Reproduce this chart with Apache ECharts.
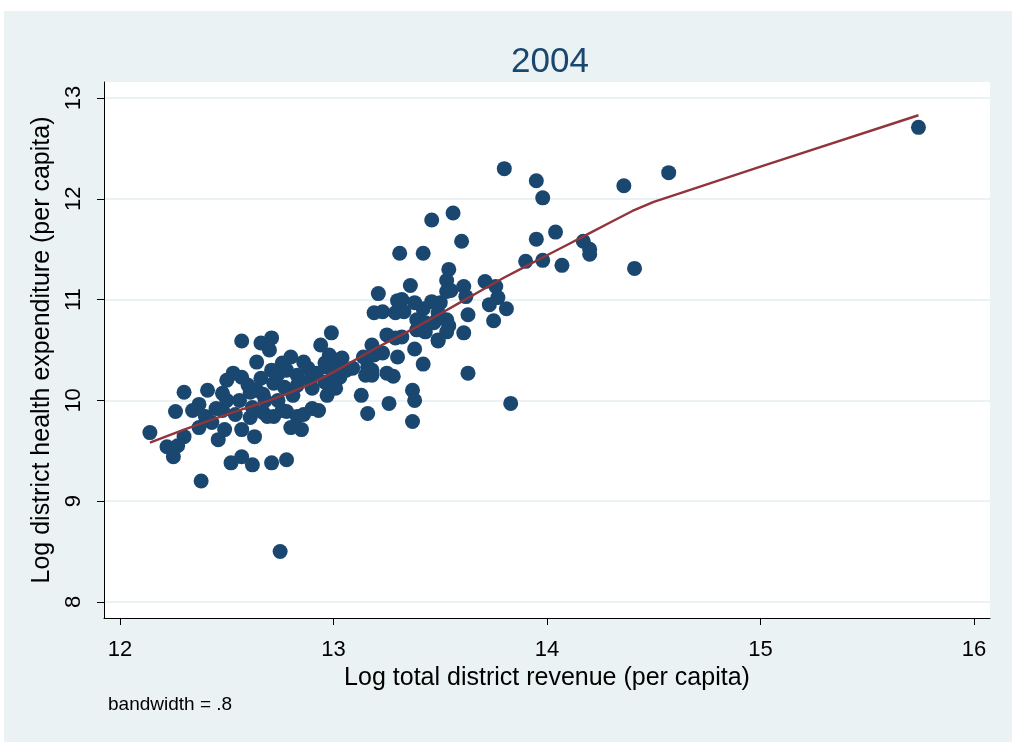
<!DOCTYPE html>
<html>
<head>
<meta charset="utf-8">
<script src="https://cdn.jsdelivr.net/npm/echarts@6/dist/echarts.min.js"></script>
<style>
html, body { margin: 0; padding: 0; background: #fff; }
#chart { width: 1016px; height: 742px; }
</style>
</head>
<body>
<div id="chart"></div>
<script>
var xTicks = [12, 13, 14, 15, 16];
var yTicks = [8, 9, 10, 11, 12, 13];

// log revenue, log health expenditure (per capita), 2004
var districts = [
    [12.14, 9.68], [12.22, 9.54], [12.25, 9.44], [12.27, 9.55], [12.30, 9.64],
    [12.26, 9.89], [12.30, 10.08], [12.34, 9.90], [12.37, 9.96], [12.38, 9.20],
    [12.41, 10.10], [12.40, 9.84], [12.37, 9.73], [12.43, 9.78], [12.46, 9.61],
    [12.45, 9.92], [12.48, 10.07], [12.50, 10.20], [12.53, 10.27], [12.57, 10.23],
    [12.49, 9.71], [12.54, 9.86], [12.57, 9.71], [12.61, 9.83], [12.63, 9.64],
    [12.62, 9.93], [12.61, 10.08], [12.52, 9.38], [12.57, 9.44], [12.62, 9.36],
    [12.67, 9.88], [12.57, 10.59], [12.66, 10.57], [12.71, 10.62], [12.70, 10.50],
    [12.64, 10.38], [12.48, 9.90], [12.50, 10.00], [12.56, 10.00], [12.60, 10.15],
    [12.64, 10.10], [12.71, 10.30], [12.76, 10.37], [12.80, 10.43], [12.86, 10.38],
    [12.88, 10.32], [12.78, 10.30], [12.83, 10.25], [12.72, 10.17], [12.77, 10.13],
    [12.83, 10.15], [12.90, 10.12], [12.89, 10.20], [12.96, 10.37], [12.98, 10.45],
    [13.02, 10.40], [13.00, 10.25], [12.96, 10.18], [12.97, 10.05], [12.74, 10.00],
    [12.76, 9.90], [12.78, 9.89], [12.83, 9.84], [12.86, 9.86], [12.90, 9.92],
    [12.93, 9.90], [12.69, 9.84], [12.72, 9.84], [12.80, 9.73], [12.85, 9.71],
    [12.71, 9.38], [12.78, 9.41], [12.75, 8.50], [12.94, 10.55], [12.99, 10.67],
    [12.68, 10.00], [13.04, 10.42], [12.97, 10.33], [13.00, 10.30], [13.03, 10.23],
    [13.06, 10.30], [13.09, 10.32], [13.14, 10.43], [13.18, 10.55], [13.23, 10.47],
    [13.19, 10.45], [13.30, 10.43], [13.25, 10.65], [13.29, 10.62], [13.32, 10.63],
    [13.16, 10.33], [13.18, 10.30], [13.15, 10.25], [13.18, 10.25], [13.25, 10.27],
    [13.28, 10.24], [13.01, 10.20], [13.01, 10.12], [13.13, 10.05], [13.16, 9.87],
    [13.26, 9.97], [13.37, 10.10], [13.38, 10.00], [13.37, 9.79], [13.38, 10.51],
    [13.42, 10.36], [13.21, 11.06], [13.19, 10.87], [13.23, 10.88], [13.36, 11.14],
    [13.30, 10.99], [13.32, 11.00], [13.29, 10.87], [13.33, 10.88], [13.38, 10.97],
    [13.42, 10.91], [13.46, 10.98], [13.50, 10.97], [13.49, 10.87], [13.39, 10.80],
    [13.43, 10.77], [13.39, 10.70], [13.43, 10.68], [13.47, 10.77], [13.53, 10.80],
    [13.49, 10.60], [13.53, 11.19], [13.53, 11.08], [13.31, 11.46], [13.42, 11.46],
    [13.46, 11.79], [13.56, 11.86], [13.60, 11.58], [13.54, 11.30], [13.55, 11.09],
    [13.61, 11.13], [13.62, 11.03], [13.63, 10.85], [13.54, 10.74], [13.53, 10.68],
    [13.49, 10.59], [13.61, 10.67], [13.63, 10.27], [13.80, 12.30], [13.95, 12.18],
    [13.98, 12.01], [14.36, 12.13], [13.95, 11.60], [14.04, 11.67], [13.90, 11.38],
    [13.98, 11.39], [14.07, 11.34], [14.17, 11.58], [14.20, 11.50], [14.20, 11.45],
    [14.41, 11.31], [13.71, 11.18], [13.76, 11.13], [13.77, 11.02], [13.73, 10.95],
    [13.81, 10.91], [13.75, 10.79], [13.83, 9.97], [14.57, 12.26], [15.74, 12.71],
    [12.66, 10.22], [12.74, 10.26], [12.81, 10.05], [12.67, 10.06], [12.92, 10.27]
];

// lowess smooth, bandwidth .8
var lowessX = [12.14, 12.3, 12.5, 12.7, 12.8, 12.9, 13.0, 13.1, 13.2, 13.3, 13.4, 13.5,
    13.6, 13.7, 13.8, 13.9, 14.0, 14.1, 14.2, 14.3, 14.4, 14.5, 14.6, 15.0, 15.74];
var lowessY = [9.58, 9.71, 9.86, 10.00, 10.08, 10.17, 10.28, 10.40, 10.52, 10.63, 10.74, 10.86,
    10.98, 11.10, 11.22, 11.33, 11.44, 11.55, 11.66, 11.77, 11.88, 11.97, 12.04, 12.32, 12.83];

var lowess = lowessX.map(function (x, i) { return [x, lowessY[i]]; });

var chart = echarts.init(document.getElementById('chart'));

var axisFont = { fontFamily: 'Liberation Sans', fontSize: 22, color: '#000' };
var nameFont = { fontFamily: 'Liberation Sans', fontSize: 25, color: '#000' };

option = {
    animation: false,
    graphic: [
        {
            type: 'rect',
            z: -10,
            shape: { x: 4, y: 11, width: 1008, height: 731 },
            style: { fill: '#eaf2f3' }
        },
        {
            type: 'text',
            left: 108,
            top: 695,
            style: { text: 'bandwidth = .8', font: '19px "Liberation Sans"', fill: '#000' }
        }
    ],
    title: {
        text: '2004',
        left: 545,
        top: 40,
        textAlign: 'center',
        textStyle: { fontFamily: 'Liberation Sans', fontSize: 35, fontWeight: 'normal', color: '#1a476f' }
    },
    grid: {
        left: 104,
        top: 82,
        right: 26,
        bottom: 124,
        show: true,
        backgroundColor: '#fff',
        borderWidth: 0
    },
    xAxis: {
        type: 'value',
        min: 11.925,
        max: 16.075,
        name: 'Log total district revenue (per capita)',
        nameLocation: 'middle',
        nameGap: 46,
        nameTextStyle: nameFont,
        axisLine: { lineStyle: { color: '#000', width: 1 } },
        axisTick: { customValues: xTicks, length: 7, lineStyle: { color: '#000' } },
        axisLabel: Object.assign({ customValues: xTicks, margin: 21 }, axisFont),
        splitLine: { show: false }
    },
    yAxis: {
        type: 'value',
        min: 7.84,
        max: 13.16,
        name: 'Log district health expenditure (per capita)',
        nameLocation: 'middle',
        nameGap: 42,
        nameTextStyle: nameFont,
        axisLine: { show: true, lineStyle: { color: '#000', width: 1 } },
        axisTick: { show: true, customValues: yTicks, length: 7, lineStyle: { color: '#000' } },
        axisLabel: Object.assign({ customValues: yTicks, rotate: 90, margin: 19 }, axisFont),
        splitLine: { show: false }
    },
    series: [
        {
            type: 'scatter',
            data: districts,
            symbol: 'circle',
            symbolSize: 15,
            itemStyle: { color: '#1a476f', opacity: 1 },
            markLine: {
                silent: true,
                symbol: 'none',
                label: { show: false },
                lineStyle: { color: '#eaf2f3', width: 2, type: 'solid' },
                data: yTicks.map(function (v) { return { yAxis: v }; }),
                z: 0
            },
            z: 3
        },
        {
            type: 'line',
            data: lowess,
            showSymbol: false,
            smooth: false,
            lineStyle: { color: '#90353b', width: 2.4 },
            z: 4
        }
    ]
};

chart.setOption(option);
</script>
</body>
</html>
